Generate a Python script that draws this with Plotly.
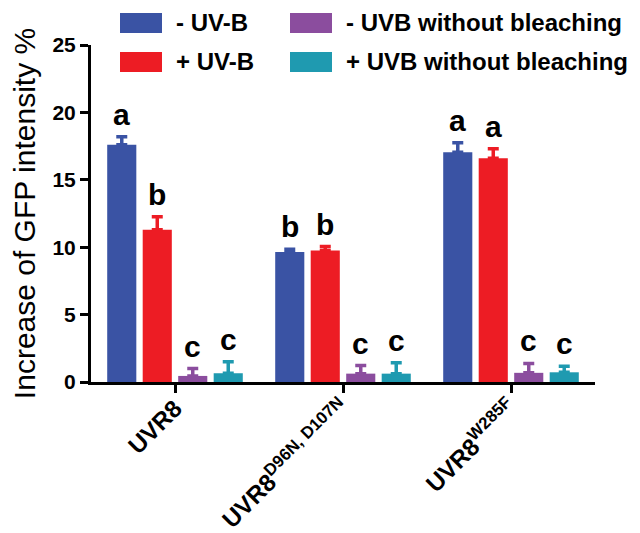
import plotly.graph_objects as go

categories = ["UVR8", "UVR8<sup>D96N, D107N</sup>", "UVR8<sup>W285F</sup>"]
series_names = ["- UV-B", "+ UV-B", "- UVB without bleaching", "+ UVB without bleaching"]
colors = ["#3A53A4", "#ED1C24", "#8B4D9E", "#1F9AB0"]

minus_uvb = [17.6, 9.65, 17.05]
plus_uvb = [11.3, 9.75, 16.6]
minus_uvb_nb = [0.45, 0.62, 0.68]
plus_uvb_nb = [0.65, 0.62, 0.72]

minus_uvb_err = [0.6, 0.2, 0.7]
plus_uvb_err = [0.95, 0.3, 0.7]
minus_uvb_nb_err = [0.55, 0.6, 0.7]
plus_uvb_nb_err = [0.85, 0.8, 0.45]

letters_minus_uvb = ["a", "b", "a"]
letters_plus_uvb = ["b", "b", "a"]
letters_minus_uvb_nb = ["c", "c", "c"]
letters_plus_uvb_nb = ["c", "c", "c"]

values = [minus_uvb, plus_uvb, minus_uvb_nb, plus_uvb_nb]
errors = [minus_uvb_err, plus_uvb_err, minus_uvb_nb_err, plus_uvb_nb_err]
letters = [letters_minus_uvb, letters_plus_uvb, letters_minus_uvb_nb, letters_plus_uvb_nb]

OFF = 8  # page body margin
W, H = 632, 525
ML, MR, MT, MB = 83, 45, 37, 151
plot_w = W - ML - MR
plot_h = H - MT - MB
bargap = 0.155
bargroupgap = 0.18

FONT = "Liberation Sans, Arial, sans-serif"

fig = go.Figure()
for name, vals, errs, col in zip(series_names, values, errors, colors):
    fig.add_trace(go.Bar(
        x=categories, y=vals, name=name,
        marker=dict(color=col, line=dict(width=0)),
        error_y=dict(type="data", symmetric=False, array=errs,
                     arrayminus=[0] * len(errs), color=col,
                     thickness=3.5, width=5.5),
        showlegend=False,
    ))

# significance letters above the error bars
cat_px = plot_w / len(categories)
slot_px = cat_px * (1 - bargap) / len(series_names)
annotations = []
for i, (vals, errs, labs) in enumerate(zip(values, errors, letters)):
    shift = (i - (len(series_names) - 1) / 2) * slot_px
    for cat, v, e, lab in zip(categories, vals, errs, labs):
        annotations.append(dict(
            x=cat, y=v + e, xref="x", yref="y", text=lab,
            showarrow=False, xshift=shift, yshift=4, yanchor="bottom",
            font=dict(family=FONT, size=30, color="black", weight="bold"),
        ))

# custom legend (large swatches)
shapes = []
def px2paper(px, py):
    return (px - OFF - ML) / plot_w, (H - MB - (py - OFF)) / plot_h

legend_pos = [(120, 13), (120, 52), (290, 13), (290, 52)]
for (sx, sy), name, col in zip(legend_pos, series_names, colors):
    x0, y1 = px2paper(sx, sy)
    x1, y0 = px2paper(sx + 42, sy + 20)
    shapes.append(dict(type="rect", xref="paper", yref="paper",
                       x0=x0, x1=x1, y0=y0, y1=y1,
                       fillcolor=col, line=dict(width=0)))
    tx, ty = px2paper(sx + 54, sy + 10)
    annotations.append(dict(
        x=tx, y=ty, xref="paper", yref="paper", text=name,
        showarrow=False, xanchor="left", yanchor="middle",
        font=dict(family=FONT, size=24, color="black", weight="bold"),
    ))

fig.update_layout(
    width=W, height=H,
    margin=dict(l=ML, r=MR, t=MT, b=MB, autoexpand=False),
    paper_bgcolor="white", plot_bgcolor="white",
    barmode="group", bargap=bargap, bargroupgap=bargroupgap,
    annotations=annotations, shapes=shapes,
    xaxis=dict(
        range=[-0.5, 2.5], showline=True, linecolor="black", linewidth=3,
        ticks="outside", ticklen=8, tickwidth=3, tickcolor="black",
        tickangle=-45, showgrid=False, zeroline=False,
        ticklabelstandoff=-8,
        tickfont=dict(family=FONT, size=24, color="black", weight="bold"),
    ),
    yaxis=dict(
        range=[0, 25], tickvals=[0, 5, 10, 15, 20, 25],
        showline=True, linecolor="black", linewidth=3,
        ticks="outside", ticklen=8, tickwidth=3, tickcolor="black",
        showgrid=False, zeroline=False,
        tickfont=dict(family=FONT, size=21, color="black", weight="bold"),
        title=dict(text="Increase of GFP intensity %", standoff=13,
                   font=dict(family=FONT, size=30, color="black")),
    ),
)

fig.write_html("out.html")
